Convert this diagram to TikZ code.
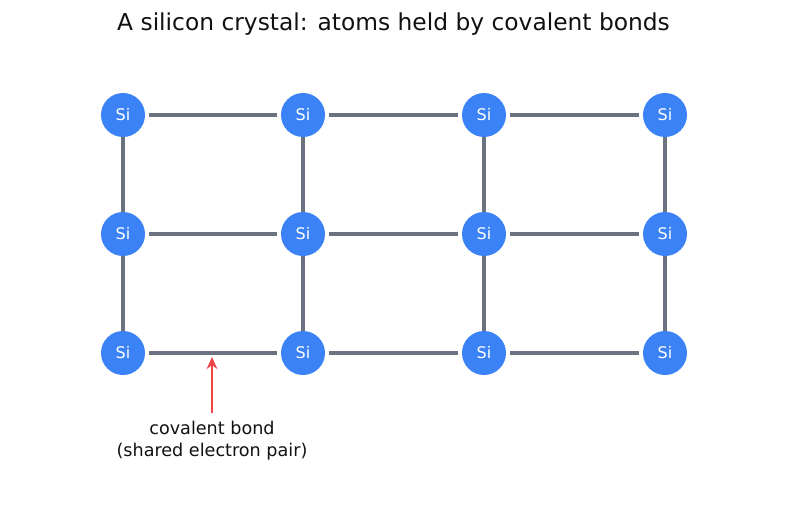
\documentclass[tikz,border=0pt]{standalone}
\usepackage{fontspec}
\setmainfont{DejaVu Sans}
\usetikzlibrary{arrows.meta}
\definecolor{atomblue}{HTML}{3B82F6}
\definecolor{bondgray}{HTML}{6B7280}
\definecolor{arrred}{HTML}{EF4444}
\definecolor{txt}{HTML}{111111}
\begin{document}
\begin{tikzpicture}[x=0.75pt,y=-0.75pt,
  atom/.style={circle,fill=atomblue,minimum size=33pt,inner sep=0pt,text=white,font=\fontsize{12}{14}\selectfont},
  bond/.style={draw=bondgray,line width=3pt},
  hbond/.style={bond,shorten >=3pt,shorten <=3pt}]
\useasboundingbox (0,0) rectangle (787,510);
\node[font=\fontsize{17.5}{20}\selectfont,text=txt] (title) at (393.5,24) {A silicon crystal: atoms held by covalent bonds};
\foreach \c/\x in {1/123,2/303,3/484,4/665}{
  \foreach \r/\y in {1/115,2/234,3/353}{
    \coordinate (p\c\r) at (\x,\y);
  }
}
% vertical bonds (behind atoms)
\foreach \c in {1,2,3,4}{
  \draw[bond] (p\c1) -- (p\c2);
  \draw[bond] (p\c2) -- (p\c3);
}
\foreach \c in {1,2,3,4}{
  \foreach \r in {1,2,3}{
    \node[atom] (a\c\r) at (p\c\r) {Si};
  }
}
\foreach \r in {1,2,3}{
  \draw[hbond] (a1\r) -- (a2\r);
  \draw[hbond] (a2\r) -- (a3\r);
  \draw[hbond] (a3\r) -- (a4\r);
}
\node[align=center,font=\fontsize{13.2}{16.3}\selectfont,text=txt] (lbl) at (212,440.5) {covalent bond\\(shared electron pair)};
\coordinate (tip) at (212,357);
\coordinate (tail) at (212,413);
\draw[arrred,line width=1.9pt,-{Stealth[length=9pt,width=8pt]}] (tail) -- (tip);
\end{tikzpicture}
\end{document}
